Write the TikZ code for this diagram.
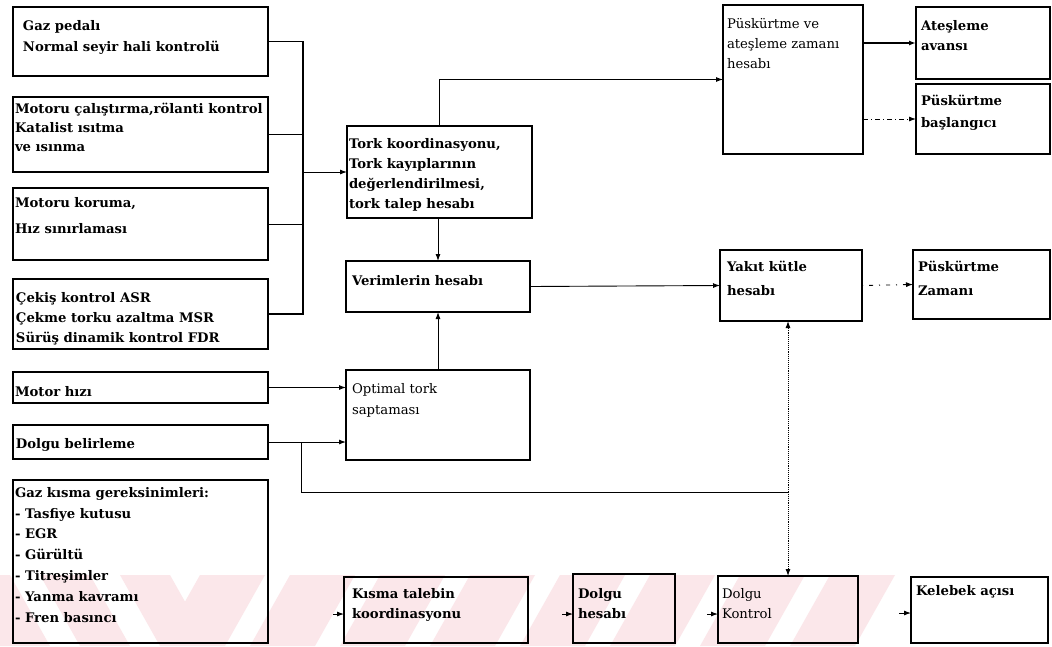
\documentclass[tikz,border=0pt]{standalone}
\usepackage{fontspec}
\setmainfont{DejaVu Serif}
\usetikzlibrary{arrows.meta}
\definecolor{wmpink}{RGB}{251,231,234}
\newcommand\mkbox[5]{\node[box,minimum width={#4pt-#2pt},minimum height={#5pt-#3pt}] (#1) at (#2,#3) {};}
\begin{document}
\begin{tikzpicture}[x=1pt,y=-1pt,
  box/.style={draw,line width=1.2pt,inner sep=0pt,outer sep=0pt,anchor=north west},
  % text nodes are placed by the baseline of their last line
  txt/.style={anchor=base west,align=left,inner sep=0pt,outer sep=0pt,
    font=\fontsize{13.2}{20}\selectfont\bfseries},
  ltxt/.style={txt,font=\fontsize{13.2}{20}\selectfont},
  link/.style={line width=0.9pt,-{Latex[length=7pt,width=5pt]}},
  plain/.style={line width=0.9pt},
  heavy/.style={line width=1.8pt}]
\useasboundingbox (0,0) rectangle (1052,646);
\fill[white] (0,0) rectangle (1052,646);

% light diagonal background band along the bottom row
\begin{scope}
  \clip (0,575) -- (900,575) -- (870,646) -- (0,646) -- cycle;
  \foreach \x in {-40,40,120} {
    \fill[wmpink] (\x,575) -- (\x+50,575) -- (\x+90,646) -- (\x+40,646) -- cycle;
  }
  \foreach \x in {160,250,340,430,520,610,700,790} {
    \fill[wmpink] (\x,646) -- (\x+65,646) -- (\x+105,575) -- (\x+40,575) -- cycle;
  }
\end{scope}

% left column: requests
\mkbox{b1}{13}{7}{268}{76}
\mkbox{b2}{13}{97}{268}{172}
\mkbox{b3}{13}{188}{268}{260}
\mkbox{b4}{13}{279}{268}{349}
\mkbox{b5}{13}{372}{268}{403}
\mkbox{b6}{13}{425}{268}{459}
\mkbox{b7}{13}{480}{268}{643}
\node[txt,font=\fontsize{13.2}{21}\selectfont\bfseries] (t1) at (23,51) {Gaz pedalı\\Normal seyir hali kontrolü};
\node[txt,font=\fontsize{13.2}{19}\selectfont\bfseries] (t2) at (15,151) {Motoru çalıştırma,rölanti kontrol\\Katalist ısıtma\\ve ısınma};
\node[txt,font=\fontsize{13.2}{26}\selectfont\bfseries] (t3) at (15,233) {Motoru koruma,\\Hız sınırlaması};
\node[txt] (t4) at (16,342) {Çekiş kontrol ASR\\Çekme torku azaltma MSR\\Sürüş dinamik kontrol FDR};
\node[txt] (t5) at (15,396) {Motor hızı};
\node[txt] (t6) at (16,448) {Dolgu belirleme};
\node[txt,font=\fontsize{13.2}{20.8}\selectfont\bfseries] (t7) at (15,622) {Gaz kısma gereksinimleri:\\- Tasfiye kutusu\\- EGR\\- Gürültü\\- Titreşimler\\- Yanma kavramı\\- Fren basıncı};

% middle column
\mkbox{tork}{347}{126}{532}{218}
\mkbox{ver}{346}{261}{530}{312}
\mkbox{opt}{346}{370}{530}{460}
\node[txt] (tt) at (349,208) {Tork koordinasyonu,\\Tork kayıplarının\\değerlendirilmesi,\\tork talep hesabı};
\node[txt] (tv) at (352,285) {Verimlerin hesabı};
\node[ltxt,font=\fontsize{13.2}{21}\selectfont] (to) at (352,414) {Optimal tork\\saptaması};

% right columns
\mkbox{pz}{723}{5}{863}{154}
\mkbox{at}{916}{7}{1050}{79}
\mkbox{pb}{916}{84}{1050}{154}
\mkbox{yak}{720}{250}{862}{321}
\mkbox{pzam}{913}{250}{1050}{319}
\node[ltxt] (tpz) at (727,68) {Püskürtme ve\\ateşleme zamanı\\hesabı};
\node[txt] (tat) at (921,50) {Ateşleme\\avansı};
\node[txt,font=\fontsize{13.2}{22}\selectfont\bfseries] (tpb) at (921,127) {Püskürtme\\başlangıcı};
\node[txt,font=\fontsize{13.2}{24}\selectfont\bfseries] (tyak) at (727,295) {Yakıt kütle\\hesabı};
\node[txt,font=\fontsize{13.2}{24}\selectfont\bfseries] (tpzam) at (918,295) {Püskürtme\\Zamanı};

% bottom row: throttle path
\mkbox{kt}{344}{577}{528}{643}
\mkbox{dh}{573}{574}{675}{643}
\mkbox{dk}{718}{576}{858}{643}
\mkbox{ka}{911}{577}{1048}{643}
\node[txt] (tkt) at (352,618) {Kısma talebin\\koordinasyonu};
\node[txt] (tdh) at (578,618) {Dolgu\\hesabı};
\node[ltxt] (tdk) at (722,618) {Dolgu\\Kontrol};
\node[txt] (tka) at (916,595) {Kelebek açısı};

% collecting bus of the request boxes
\coordinate (busx) at (303,0);
\draw[heavy] (b1.east) -- (b1.east -| busx) -- (b4.east -| busx) -- (b4.east);
\draw[plain] (b2.east) -- (b2.east -| busx);
\draw[plain] (b3.east) -- (b3.east -| busx);
\draw[link] (busx |- tork.west) -- (tork.west);

% torque path
\draw[link] (tork.north) |- (pz.west);
\draw[link] (ver.north |- tork.south) -- (ver.north);
\draw[link] (opt.north) -- (ver.south);
\draw[link] (ver.east) -- (yak.west);
\draw[link] (b5.east) -- (b5.east -| opt.west);
\draw[link] (b6.east) -- (b6.east -| opt.west);

% ignition and injection outputs
\draw[link,line width=1.5pt] (pz.east |- at.west) -- (at.west);
\draw[link,dash pattern=on 5pt off 3pt on 1pt off 3pt] (pz.east |- pb.west) -- (pb.west);
\draw[link,dash pattern=on 1pt off 6pt on 4pt off 6pt] (yak.east) -- (pzam.west);

% charge branch to fuel mass and charge control
\coordinate (j1) at (301,492);
\coordinate (j2) at (788,492);
\draw[plain] (b6.east -| j1) -- (j1) -- (j2);
\draw[link,densely dotted] (j2) -- (j2 |- yak.south);
\draw[link,densely dotted] (j2) -- (j2 |- dk.north);

% incoming stubs of the bottom row
\coordinate (s1) at (333,614);
\coordinate (s2) at (562,614);
\coordinate (s3) at (707,614);
\coordinate (s4) at (899,613);
\draw[link] (s1) -- (s1 -| kt.west);
\draw[link] (s2) -- (s2 -| dh.west);
\draw[link] (s3) -- (s3 -| dk.west);
\draw[link] (s4) -- (s4 -| ka.west);
\end{tikzpicture}
\end{document}
